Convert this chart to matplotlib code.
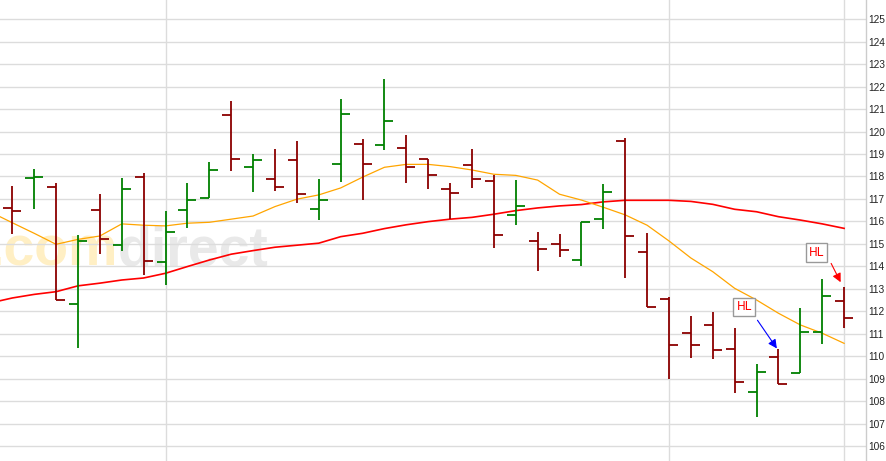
import numpy as np
import matplotlib
matplotlib.use("Agg")
import matplotlib.pyplot as plt
from matplotlib.transforms import blended_transform_factory

# --- Daten (OHLC) ---
opens = [116.59, 117.92, 117.52, 112.31, 116.50, 114.94, 117.97, 114.18, 116.50, 117.04,
         120.73, 118.41, 117.89, 118.74, 116.54, 118.54, 119.43, 119.39, 119.26, 118.78,
         117.43, 118.50, 117.79, 116.27, 115.12, 114.98, 114.27, 116.10, 119.57, 114.63,
         112.53, 111.02, 111.38, 110.31, 108.39, 109.95, 109.24, 111.08, 112.44]
highs = [117.58, 118.33, 117.71, 115.40, 117.24, 117.93, 118.16, 116.46, 117.71, 118.65,
         121.36, 119.00, 119.23, 119.58, 117.89, 121.45, 119.67, 122.34, 119.85, 118.78,
         117.71, 119.23, 118.08, 117.84, 115.53, 115.44, 115.96, 117.67, 119.70, 115.49,
         112.62, 111.79, 111.97, 111.26, 109.65, 110.31, 112.15, 113.42, 113.08]
lows = [115.45, 116.57, 112.49, 110.38, 114.56, 114.70, 113.63, 113.18, 115.69, 117.04,
        118.26, 117.32, 117.37, 116.83, 116.08, 117.77, 116.97, 119.19, 117.72, 117.46,
        116.11, 117.50, 114.83, 115.85, 113.81, 114.43, 114.03, 115.68, 113.50, 112.18,
        109.00, 109.93, 109.89, 108.37, 107.31, 108.75, 109.24, 110.56, 111.27]
closes = [116.45, 117.98, 112.49, 115.13, 115.20, 117.43, 114.23, 115.52, 116.94, 118.28,
          118.77, 118.74, 117.52, 117.21, 116.94, 120.78, 118.54, 120.46, 118.41, 118.05,
          117.25, 117.88, 115.38, 116.67, 114.76, 114.71, 115.96, 117.30, 115.34, 112.18,
          110.49, 110.49, 110.26, 108.84, 109.28, 108.75, 111.08, 112.68, 111.69]

# Gleitende Durchschnitte (erster Wert liegt einen Tag vor dem ersten Balken)
ma_short = [116.42, 115.94, 115.47, 114.98, 115.20, 115.35, 115.89, 115.83, 115.80, 115.92,
            115.96, 116.10, 116.24, 116.66, 116.99, 117.18, 117.49, 117.97, 118.41, 118.54,
            118.54, 118.44, 118.29, 118.10, 118.05, 117.84, 117.21, 116.95, 116.63, 116.29,
            115.83, 115.13, 114.37, 113.76, 113.02, 112.50, 111.91, 111.39, 111.02, 110.57]
ma_long = [112.37, 112.59, 112.75, 112.87, 113.13, 113.25, 113.39, 113.48, 113.69, 113.99,
           114.28, 114.54, 114.70, 114.85, 114.94, 115.03, 115.32, 115.47, 115.68, 115.85,
           115.99, 116.10, 116.18, 116.32, 116.48, 116.60, 116.69, 116.75, 116.87, 116.94,
           116.94, 116.94, 116.89, 116.76, 116.54, 116.43, 116.21, 116.06, 115.89, 115.69]

y_ticks = list(range(106, 126))
month_starts = [7, 30, 38]

# --- Abbildung ---
fig = plt.figure(figsize=(8.86, 4.61), dpi=100)
ax = fig.add_axes([0, 0, 866 / 886, 1])

x = np.arange(len(opens))
tick = 0.41

# Wasserzeichen
ax.text(0.136, 0.425, ".com", transform=ax.transAxes, ha="right", va="baseline",
        fontsize=40, fontweight="bold", family="Liberation Sans", color="#ffefc4", zorder=0)
ax.text(0.136, 0.425, "direct", transform=ax.transAxes, ha="left", va="baseline",
        fontsize=40, fontweight="bold", family="Liberation Sans", color="#e9e9e9", zorder=0)

# Gitter
for v in y_ticks:
    ax.axhline(v, color="#dcdcdc", lw=1.0, zorder=1)
for m in month_starts:
    ax.axvline(m, color="#dcdcdc", lw=1.0, zorder=1)

# Gleitende Durchschnitte
x_ma = np.arange(-1, len(opens))
ax.plot(x_ma, ma_long, color="#ff0000", lw=1.2, zorder=2)
ax.plot(x_ma, ma_short, color="#ffa500", lw=0.9, zorder=2)

# OHLC-Balken
for i in range(len(opens)):
    col = "#008000" if closes[i] > opens[i] else "#8b0000"
    ax.vlines(x[i], lows[i], highs[i], color=col, lw=1.3, zorder=3)
    ax.hlines(opens[i], x[i] - tick, x[i], color=col, lw=1.3, zorder=3)
    ax.hlines(closes[i], x[i], x[i] + tick, color=col, lw=1.3, zorder=3)

# HL-Markierungen
box = dict(boxstyle="square,pad=0.25", fc="white", ec="#999999", lw=1.0)
ax.annotate("", xy=(35, highs[35] - 0.07), xytext=(33.97, 111.70),
            arrowprops=dict(arrowstyle="-|>", color="#0000ff", lw=0.8,
                            mutation_scale=13), zorder=4)
ax.text(33.43, 112.19, "HL", color="#ff0000", fontsize=8.5, ha="center", va="center",
        bbox=box, zorder=5)
ax.annotate("", xy=(37.9, highs[38] + 0.1), xytext=(37.35, 114.24),
            arrowprops=dict(arrowstyle="-|>", color="#ff0000", lw=0.8,
                            mutation_scale=13), zorder=4)
ax.text(36.73, 114.60, "HL", color="#ff0000", fontsize=8.5, ha="center", va="center",
        bbox=box, zorder=5)

ax.set_xlim(-0.562, 39.0)
ax.set_ylim(105.33, 125.86)

ax.set_xticks([])
ax.yaxis.tick_right()
ax.set_yticks(y_ticks)
ax.tick_params(axis="y", length=0, pad=1.5, labelsize=7.3, labelcolor="#222222")
for lab in ax.get_yticklabels():
    lab.set_family("Liberation Sans")

# angeschnittenes Label oben
trans = blended_transform_factory(ax.transAxes, ax.transData)
ax.text(1.0, 126, " 126", transform=trans, ha="left", va="center", fontsize=7.3,
        family="Liberation Sans", color="#222222", clip_on=False)

for s in ["top", "left", "bottom"]:
    ax.spines[s].set_visible(False)
ax.spines["right"].set_color("#cccccc")
ax.spines["right"].set_linewidth(1.0)

fig.savefig("out.png", dpi=100)
